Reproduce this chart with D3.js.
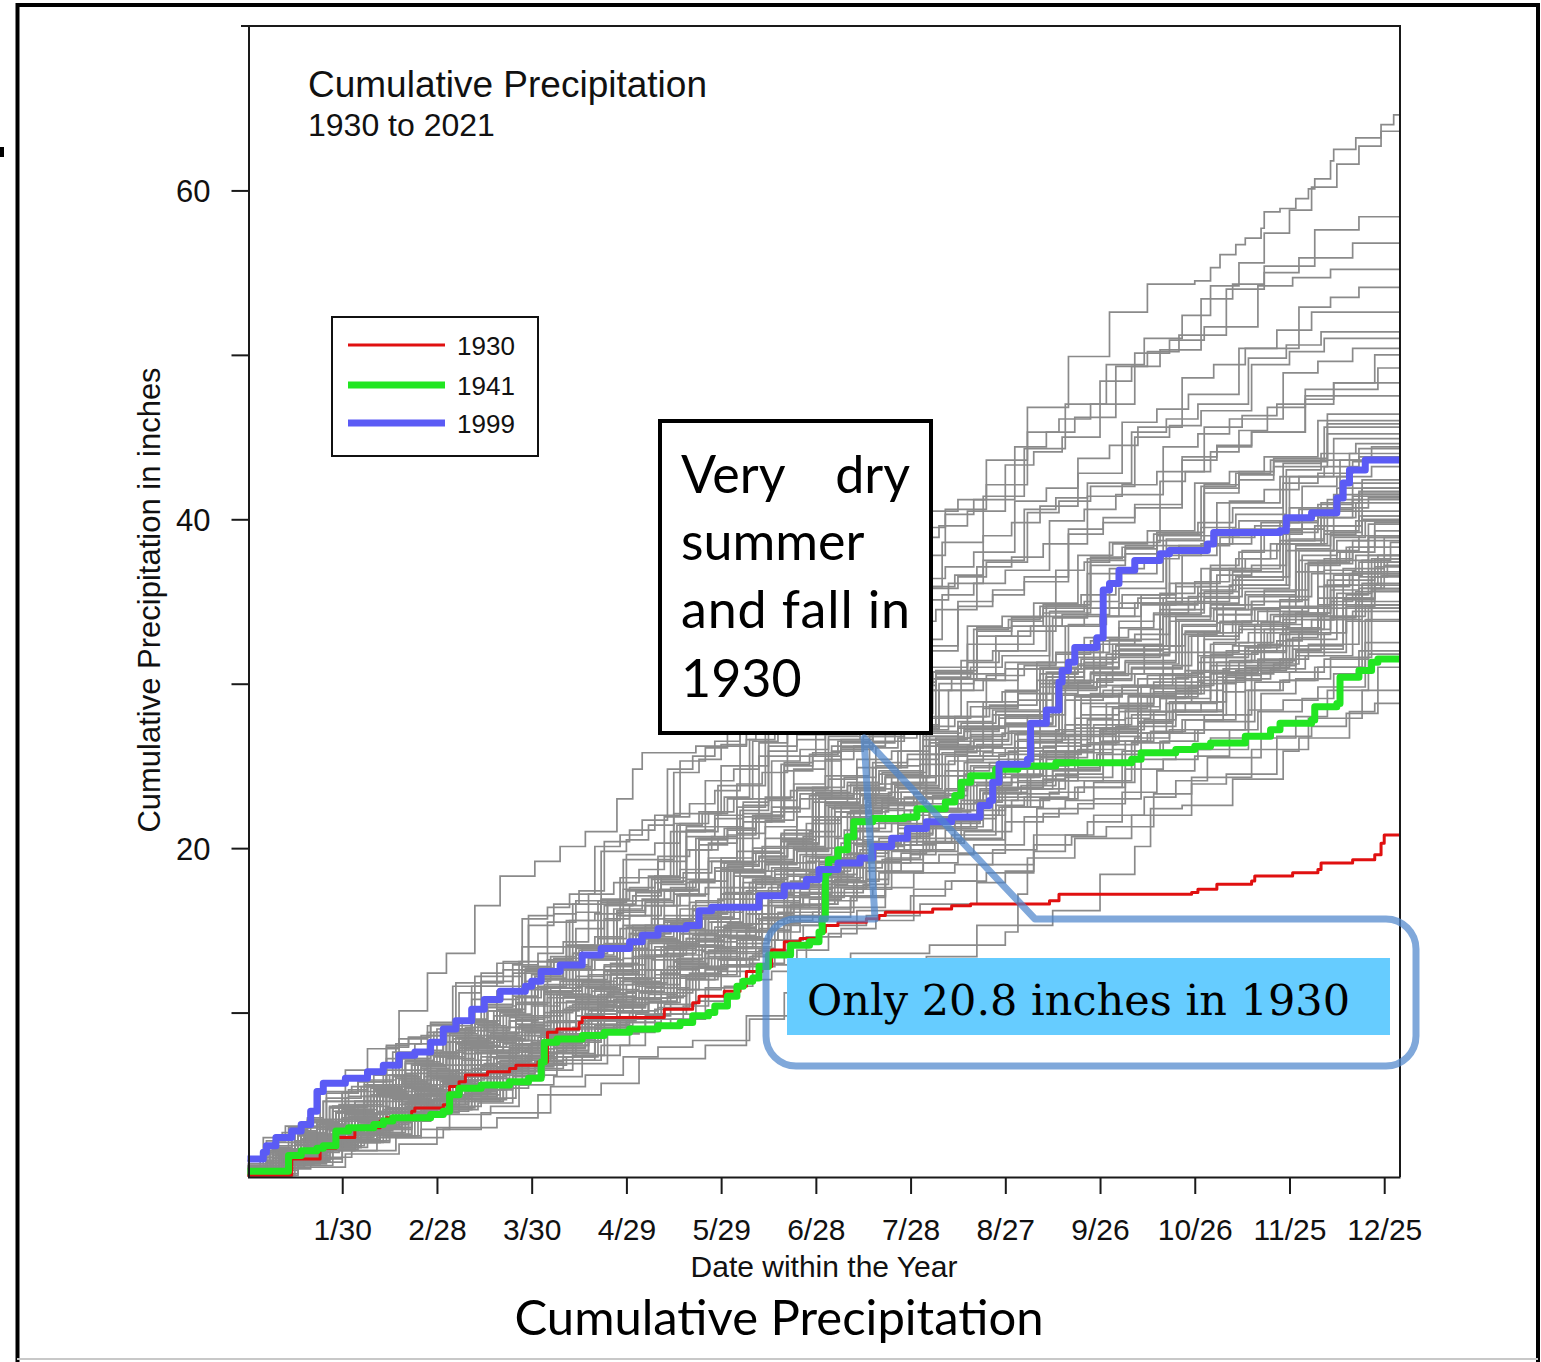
<!DOCTYPE html>
<html>
<head>
<meta charset="utf-8">
<script src="https://cdn.jsdelivr.net/npm/d3@7"></script>
<style>
  html, body { margin: 0; padding: 0; background: #fff; }
  svg { display: block; }
</style>
</head>
<body>
<svg id="chart" width="1541" height="1362"></svg>
<script>
// ---- axis ticks ----
const xTickDays = [30, 60, 90, 120, 150, 180, 210, 240, 270, 300, 330, 360];
const xTickLabels = ["1/30", "2/28", "3/30", "4/29", "5/29", "6/28", "7/28", "8/27", "9/26", "10/26", "11/25", "12/25"];
const yTickValues = [10, 20, 30, 40, 50, 60];
const yTickLabels = ["", "20", "", "40", "", "60"];

// ---- highlighted years: [day, cumulative inches, day, cumulative inches, ...] ----
const year1930 = [0,0.1, 14,1.1, 23,1.75, 28,2.4, 34,3.0, 42,3.4, 44,3.6, 52,4.0, 53,4.2, 62,4.4, 64,5.5, 67,5.8, 69,6.2, 76,6.4, 83,6.6, 85,6.8, 92,7.0, 95,8.8, 98,9.0, 105,9.4, 106,9.7, 132,10.2, 141,10.6, 143,11.0, 151,11.3, 156,11.6, 158,12.5, 163,12.8, 166,13.8, 170,14.3, 175,14.5, 181,14.9, 183,15.3, 187,15.5, 196,15.7, 200,15.9, 202,16.1, 217,16.3, 223,16.5, 229,16.6, 254,16.8, 257,17.2, 299,17.3, 301,17.5, 307,17.8, 318,18.0, 319,18.3, 331,18.5, 339,18.7, 340,19.1, 350,19.3, 357,19.6, 359,20.3, 360,20.8, 365,20.8];
const year1941 = [0,0.35, 13,1.3, 17,1.6, 22,1.75, 24,1.9, 28,2.8, 32,3.0, 40,3.2, 43,3.4, 46,3.6, 58,3.8, 62,4.0, 64,5.0, 67,5.4, 74,5.6, 83,5.8, 89,6.0, 93,7.0, 94,8.2, 98,8.4, 106,8.6, 113,8.8, 121,9.0, 130,9.2, 137,9.4, 141,9.8, 146,10.0, 148,10.4, 152,11.0, 155,11.6, 157,11.9, 160,12.1, 162,12.8, 165,13.5, 172,14.1, 178,14.3, 181,14.9, 182,15.7, 183,18.5, 184,19.3, 187,19.9, 190,20.7, 192,21.6, 198,21.8, 208,21.9, 212,22.4, 221,22.8, 224,23.2, 226,24.0, 229,24.4, 237,24.8, 244,25.0, 256,25.2, 280,25.4, 283,25.8, 294,26.0, 300,26.2, 305,26.4, 316,26.8, 324,27.2, 327,27.6, 337,27.8, 338,28.6, 345,28.8, 346,30.4, 352,30.8, 356,31.3, 358,31.5, 365,31.5];
const year1999 = [0,1.1, 5,1.5, 6,1.9, 9,2.4, 14,2.8, 17,3.2, 20,4.0, 22,5.2, 24,5.7, 31,6.0, 38,6.4, 43,6.8, 48,7.4, 53,7.6, 58,8.2, 62,9.0, 66,9.5, 71,10.2, 75,10.8, 80,11.3, 88,11.6, 90,11.9, 93,12.5, 99,12.9, 106,13.5, 112,13.9, 121,14.3, 125,14.7, 130,15.1, 139,15.3, 143,16.2, 147,16.4, 162,17.1, 170,17.7, 177,18.1, 181,18.7, 187,19.1, 194,19.4, 198,20.1, 204,20.6, 209,21.2, 215,21.6, 223,21.9, 232,22.6, 235,22.9, 236,24.0, 238,25.1, 247,25.4, 248,27.6, 253,28.4, 257,30.1, 258,30.8, 260,31.3, 262,32.2, 269,32.8, 271,35.7, 273,36.1, 276,36.9, 281,37.5, 289,37.9, 292,38.1, 304,38.5, 306,39.2, 327,39.3, 329,40.1, 337,40.4, 345,41.3, 347,42.2, 349,43.0, 354,43.6, 365,43.6];

const legendYears = ["1930", "1941", "1999"];

// ---- all other years, by decade: [year, [day, inches, ...]] ----
const gray1930s = [
  [1931, [0,0.2, 8,0.7, 19,1.4, 25,2.2, 38,2.8, 45,3.5, 52,4.4, 66,4.9, 74,6.0, 81,6.9, 95,7.3, 104,8.3, 112,9.1, 126,9.8, 134,11.2, 141,12.2, 156,12.8, 167,14.4, 176,15.3, 196,15.9, 213,16.6, 231,17.9, 240,18.6, 249,20.8, 266,21.6, 277,23.4, 288,24.7, 300,25.6, 311,27.2, 320,28.3, 334,29.1, 344,30.6, 352,32.0, 365,33.6]],
  [1932, [0,0.5, 6,1.0, 15,2.2, 27,2.6, 33,3.0, 40,4.6, 49,5.0, 61,5.5, 68,7.5, 79,7.9, 86,8.3, 97,10.6, 108,11.0, 116,11.4, 124,13.8, 136,14.3, 145,15.0, 153,17.6, 163,18.2, 171,19.1, 180,21.9, 191,22.3, 201,23.0, 215,25.7, 228,26.2, 239,27.0, 251,29.4, 263,30.1, 274,31.6, 289,34.5, 300,35.0, 311,36.0, 329,38.7, 341,39.3, 352,40.2, 365,41.5]],
  [1933, [0,0.3, 7,0.5, 12,0.8, 21,2.3, 29,2.6, 36,3.2, 43,3.9, 49,5.0, 58,5.3, 64,6.1, 72,6.8, 79,8.4, 88,8.8, 95,9.5, 106,11.9, 117,12.3, 126,13.4, 138,15.7, 149,16.1, 157,17.2, 169,20.5, 178,21.0, 186,22.6, 199,26.1, 206,26.7, 212,28.0, 226,31.4, 236,32.0, 244,33.2, 256,36.9, 265,37.4, 273,38.6, 289,42.3, 297,42.9, 305,44.1, 314,45.4, 323,46.8, 335,47.3, 344,48.3, 357,50.0, 365,50.4]],
  [1934, [0,0.7, 8,2.1, 17,3.0, 24,3.5, 31,4.6, 42,5.3, 50,6.3, 57,7.4, 66,7.7, 73,8.2, 85,10.5, 95,10.9, 104,11.6, 117,13.9, 127,14.2, 137,14.8, 149,16.9, 161,17.3, 172,18.0, 188,20.3, 200,20.6, 213,21.2, 231,22.9, 244,23.3, 257,24.1, 271,26.5, 283,27.0, 296,27.8, 309,30.2, 321,30.7, 332,31.7, 341,33.1, 348,34.6, 365,36.4]],
  [1935, [0,0.1, 5,0.6, 11,1.2, 24,1.9, 32,3.6, 41,3.9, 50,4.5, 58,6.8, 68,7.1, 77,7.6, 90,9.8, 100,10.2, 108,10.9, 119,13.3, 129,13.8, 139,14.5, 150,17.2, 157,17.6, 164,18.6, 177,21.5, 186,21.9, 196,22.8, 206,25.9, 216,26.4, 225,27.3, 240,29.6, 251,30.0, 262,30.9, 276,33.8, 287,34.3, 298,35.3, 315,38.1, 327,38.7, 338,39.6, 353,42.4, 365,43.2]],
  [1936, [0,0.4, 10,1.6, 18,1.9, 26,2.2, 35,3.9, 44,4.2, 53,4.6, 66,6.5, 75,6.9, 83,7.3, 94,9.4, 104,9.8, 113,10.4, 126,12.6, 136,13.0, 146,13.7, 158,16.0, 171,16.5, 184,17.1, 198,17.6, 211,18.5, 224,19.0, 236,19.9, 250,22.4, 259,22.9, 268,24.0, 281,26.7, 292,27.2, 303,28.1, 318,30.9, 327,31.5, 336,32.4, 352,35.8, 359,36.6, 365,37.6]],
  [1937, [0,0.8, 5,2.4, 11,2.7, 17,3.3, 25,5.1, 33,5.5, 40,6.2, 48,8.4, 57,8.8, 65,9.5, 74,11.9, 84,12.4, 92,13.1, 101,15.6, 110,16.0, 119,16.8, 130,19.5, 140,19.9, 149,20.6, 162,23.0, 172,23.5, 183,24.4, 197,26.8, 208,27.3, 219,28.0, 234,30.5, 246,31.1, 256,31.9, 271,34.6, 282,35.2, 292,36.1, 308,38.9, 319,39.6, 330,40.7, 346,43.6, 356,44.4, 365,45.4]],
  [1938, [0,0.2, 13,0.9, 22,2.4, 31,2.7, 39,3.1, 47,4.8, 57,5.1, 66,5.6, 76,7.7, 86,8.1, 95,8.6, 104,10.8, 114,11.2, 123,11.8, 133,14.2, 143,14.7, 152,15.4, 161,18.1, 171,18.6, 181,19.4, 192,22.2, 203,22.7, 214,23.5, 228,25.6, 240,26.1, 251,26.9, 264,29.2, 277,29.8, 289,30.6, 303,33.1, 315,33.8, 327,34.7, 343,37.5, 355,38.3, 365,39.1]],
  [1939, [0,0.3, 7,1.4, 14,1.7, 20,2.0, 30,3.5, 38,3.8, 45,4.2, 55,5.9, 65,6.3, 74,6.7, 84,8.6, 93,9.0, 102,9.5, 112,11.7, 122,12.1, 131,12.6, 143,14.9, 153,15.4, 162,16.0, 173,18.7, 183,19.3, 193,20.1, 206,22.7, 217,23.2, 228,24.0, 244,26.1, 256,26.6, 267,27.3, 282,29.8, 294,30.4, 305,31.1, 321,33.7, 332,34.3, 343,35.2, 357,37.6, 365,38.4]]
];
const gray1940s = [
  [1940, [0,0.4, 10,1.2, 18,2.5, 27,2.8, 35,3.3, 44,5.0, 53,5.4, 62,5.9, 71,8.0, 80,8.4, 88,8.9, 99,11.1, 109,11.5, 118,12.1, 127,14.4, 137,15.0, 146,15.7, 156,18.6, 165,19.1, 174,19.9, 184,22.5, 195,23.0, 205,23.7, 219,26.0, 230,26.5, 241,27.1, 257,29.7, 269,30.3, 280,31.0, 296,33.6, 307,34.2, 318,35.0, 333,37.5, 343,38.1, 352,39.0, 365,40.5]],
  [1942, [0,0.2, 12,1.5, 19,1.8, 25,2.1, 34,3.8, 43,4.1, 51,4.6, 60,6.5, 69,6.8, 78,7.3, 87,9.7, 96,10.1, 105,10.6, 115,13.0, 124,13.5, 133,14.1, 142,16.8, 151,17.3, 160,18.0, 170,21.1, 179,21.7, 188,22.6, 198,25.2, 209,25.7, 219,26.5, 233,28.9, 244,29.4, 254,30.2, 268,32.8, 279,33.3, 290,34.1, 305,37.0, 316,37.6, 326,38.5, 342,41.2, 353,41.9, 365,42.8]],
  [1943, [0,1.0, 6,2.2, 12,3.1, 23,5.2, 31,6.5, 38,7.8, 48,10.1, 57,12.4, 63,13.6, 72,16.5, 80,18.3, 91,19.2, 99,20.1, 107,21.0, 117,23.0, 122,24.8, 125,25.8, 142,26.2, 158,26.6, 161,27.0, 176,28.2, 190,29.4, 209,30.3, 228,32.4, 249,34.1, 266,36.7, 288,38.4, 307,41.0, 327,42.6, 344,44.9, 365,46.1]],
  [1944, [0,0.1, 14,0.8, 23,2.0, 32,2.3, 41,2.7, 50,4.3, 60,4.6, 69,5.1, 79,6.9, 88,7.3, 97,7.8, 107,9.9, 117,10.3, 126,10.9, 135,13.1, 145,13.6, 155,14.2, 165,16.8, 175,17.3, 185,18.0, 195,20.4, 206,20.9, 217,21.6, 232,23.6, 244,24.1, 255,24.8, 270,27.1, 282,27.7, 293,28.4, 309,30.9, 320,31.5, 331,32.3, 347,35.1, 357,36.0, 365,37.3]],
  [1945, [0,0.4, 8,1.7, 14,2.1, 20,2.6, 29,4.4, 37,4.9, 44,5.5, 53,7.7, 62,8.2, 70,8.9, 79,11.3, 88,11.9, 96,12.6, 104,15.1, 113,15.7, 121,16.5, 130,19.2, 139,19.9, 147,20.7, 155,23.9, 163,24.6, 171,25.6, 180,29.1, 188,29.9, 196,31.0, 205,34.4, 214,35.1, 222,36.1, 233,39.0, 242,39.8, 251,40.8, 263,43.7, 273,44.5, 282,45.6, 296,48.6, 306,49.4, 316,50.4, 333,52.9, 343,53.5, 352,54.1, 365,55.0]],
  [1946, [0,0.3, 11,1.0, 20,2.4, 29,2.7, 37,3.1, 46,4.7, 55,5.0, 64,5.5, 74,7.3, 83,7.7, 92,8.2, 101,10.3, 111,10.7, 120,11.3, 129,13.5, 139,14.0, 149,14.6, 158,17.2, 168,17.7, 178,18.5, 189,21.1, 200,21.6, 210,22.3, 225,24.4, 236,24.9, 247,25.6, 262,27.9, 274,28.5, 285,29.2, 301,31.7, 312,32.3, 323,33.1, 339,35.9, 349,36.7, 358,37.8, 365,38.8]],
  [1947, [0,0.6, 7,1.6, 16,2.5, 26,4.2, 34,4.6, 41,5.0, 50,7.0, 59,7.4, 67,7.9, 76,10.1, 85,10.6, 94,11.2, 103,13.6, 112,14.1, 121,14.8, 130,17.4, 139,17.9, 148,18.6, 157,21.6, 166,22.2, 175,23.0, 185,25.9, 195,26.4, 205,27.2, 219,29.6, 230,30.2, 240,30.9, 254,33.5, 265,34.1, 276,34.9, 291,37.8, 302,38.5, 312,39.4, 328,42.2, 339,42.8, 350,43.5, 365,44.2]],
  [1948, [0,0.1, 15,0.7, 27,1.8, 36,2.1, 45,2.5, 55,4.0, 65,4.3, 74,4.8, 85,6.5, 94,6.9, 103,7.4, 113,9.5, 123,9.9, 132,10.5, 142,12.7, 152,13.2, 162,13.8, 172,16.3, 183,16.8, 193,17.5, 204,19.8, 216,20.3, 227,21.0, 242,22.9, 254,23.4, 265,24.1, 280,26.4, 292,27.0, 303,27.7, 319,30.1, 330,30.7, 341,31.5, 355,34.6, 365,35.8]],
  [1949, [0,0.5, 9,1.3, 17,2.7, 25,3.0, 33,3.5, 42,5.2, 51,5.6, 60,6.1, 69,8.2, 78,8.6, 87,9.2, 96,11.5, 106,11.9, 115,12.5, 124,14.9, 134,15.4, 143,16.1, 152,19.0, 162,19.5, 171,20.3, 181,23.0, 192,23.5, 202,24.3, 216,26.6, 227,27.1, 238,27.9, 253,30.4, 265,31.0, 276,31.7, 292,34.3, 303,34.9, 314,35.8, 330,38.5, 341,39.1, 351,39.9, 365,40.9]]
];
const gray1950s = [
  [1950, [0,0.2, 12,1.4, 18,1.7, 24,2.0, 33,3.7, 41,4.0, 49,4.5, 58,6.4, 67,6.8, 76,7.3, 85,9.6, 94,10.0, 103,10.5, 113,12.9, 122,13.4, 131,14.0, 140,16.7, 150,17.2, 159,17.9, 169,20.9, 179,21.5, 188,22.2, 198,24.9, 209,25.4, 219,26.1, 233,28.5, 244,29.0, 255,29.8, 270,32.4, 281,33.0, 292,33.8, 307,36.6, 318,37.2, 329,38.1, 344,40.7, 355,41.3, 365,41.9]],
  [1951, [0,0.4, 8,1.1, 16,2.6, 24,3.0, 31,3.4, 40,5.3, 49,5.7, 57,6.2, 66,8.5, 75,9.0, 83,9.5, 92,12.1, 101,12.6, 110,13.2, 119,15.9, 128,16.5, 137,17.2, 146,20.3, 155,20.9, 164,21.7, 173,24.8, 183,25.4, 192,26.2, 202,29.0, 213,29.6, 223,30.3, 237,32.9, 248,33.5, 258,34.2, 273,37.0, 284,37.6, 295,38.4, 311,41.1, 322,41.8, 333,42.6, 349,44.0, 365,44.6]],
  [1952, [0,0.7, 6,1.9, 14,3.0, 20,3.4, 25,4.8, 32,5.3, 38,5.9, 47,8.1, 55,8.6, 62,9.2, 71,11.6, 79,12.2, 87,12.8, 95,15.5, 104,16.1, 112,16.8, 120,19.6, 129,20.3, 137,21.0, 145,24.1, 154,24.8, 162,25.6, 171,28.8, 180,29.5, 189,30.3, 198,33.2, 208,33.8, 218,34.5, 231,37.1, 242,37.7, 252,38.5, 266,41.4, 277,42.1, 288,42.9, 303,45.6, 315,46.3, 326,47.0, 344,48.3, 365,48.9]],
  [1953, [0,0.2, 13,1.0, 26,2.3, 34,2.6, 42,3.0, 51,4.6, 60,4.9, 69,5.4, 79,7.4, 88,7.8, 97,8.3, 107,10.5, 117,10.9, 126,11.5, 135,13.8, 145,14.3, 155,14.9, 165,17.6, 175,18.2, 185,18.9, 195,21.5, 206,22.0, 216,22.7, 230,24.9, 241,25.4, 252,26.2, 267,28.6, 279,29.2, 290,29.9, 306,32.5, 317,33.1, 328,33.9, 344,36.6, 353,37.5, 362,38.6, 365,39.3]],
  [1954, [0,0.3, 12,0.8, 25,1.9, 35,2.2, 44,2.5, 54,3.8, 64,4.1, 73,4.5, 84,6.1, 94,6.5, 103,6.9, 114,8.7, 124,9.1, 134,9.6, 145,11.5, 156,12.0, 166,12.5, 177,14.6, 188,15.1, 199,15.6, 211,17.5, 223,18.0, 234,18.5, 249,20.2, 261,20.7, 272,21.3, 287,23.3, 299,23.9, 310,24.5, 326,26.8, 337,27.4, 348,28.2, 358,31.0, 365,32.2]],
  [1955, [0,0.4, 9,1.4, 19,2.3, 28,3.9, 37,4.3, 45,4.8, 54,6.8, 63,7.2, 72,7.6, 81,9.9, 90,10.4, 99,10.9, 108,13.3, 118,13.8, 127,14.4, 136,17.1, 145,17.6, 154,18.3, 164,21.3, 174,21.9, 183,22.6, 193,25.4, 204,25.9, 214,26.6, 228,28.9, 239,29.5, 250,30.2, 265,32.8, 276,33.4, 287,34.2, 302,37.0, 313,37.6, 324,38.5, 340,41.0, 352,41.6, 365,42.2]],
  [1956, [0,0.2, 14,1.1, 27,1.8, 38,3.4, 47,3.7, 55,4.1, 65,5.9, 74,6.3, 83,6.7, 93,8.7, 103,9.1, 112,9.6, 122,11.8, 132,12.3, 141,12.8, 151,15.2, 161,15.7, 171,16.4, 181,19.0, 192,19.5, 202,20.2, 214,22.4, 226,22.9, 237,23.6, 252,25.8, 264,26.3, 275,27.0, 291,29.4, 302,30.0, 313,30.8, 329,33.4, 340,34.1, 351,35.0, 365,37.0]],
  [1957, [0,0.3, 10,1.1, 21,2.5, 29,2.8, 37,3.2, 46,4.9, 55,5.3, 63,5.8, 73,7.9, 82,8.3, 91,8.8, 100,11.0, 110,11.4, 119,12.0, 128,14.3, 138,14.8, 147,15.5, 157,18.2, 167,18.7, 176,19.5, 186,22.2, 197,22.7, 207,23.4, 221,25.6, 232,26.1, 243,26.9, 258,29.3, 270,29.9, 281,30.6, 297,33.2, 308,33.8, 319,34.6, 335,37.3, 345,38.0, 355,38.9, 365,40.0]],
  [1958, [0,0.5, 8,1.5, 17,2.3, 27,4.0, 35,4.4, 43,4.9, 52,6.9, 61,7.3, 69,7.8, 78,10.1, 87,10.6, 96,11.1, 105,13.6, 114,14.1, 123,14.7, 132,17.4, 141,18.0, 150,18.7, 160,21.8, 169,22.4, 178,23.2, 188,26.0, 198,26.5, 208,27.2, 222,29.6, 233,30.2, 244,30.9, 259,33.5, 270,34.1, 281,34.9, 296,37.8, 307,38.5, 318,39.3, 334,42.0, 345,42.6, 356,43.2, 365,43.6]],
  [1959, [0,0.1, 10,0.4, 16,1.5, 29,1.8, 36,3.2, 50,3.6, 56,4.4, 70,4.8, 79,6.6, 91,7.0, 100,8.2, 112,8.7, 118,10.6, 133,11.0, 139,12.3, 152,12.9, 158,15.0, 172,15.5, 182,17.6, 196,18.1, 203,20.2, 218,20.6, 224,22.0, 238,22.5, 247,24.8, 262,25.3, 270,27.2, 284,27.8, 294,29.6, 309,30.1, 316,32.3, 331,32.8, 339,35.2, 353,35.8, 360,37.2, 365,38.0]]
];
const gray1960s = [
  [1960, [0,0.5, 8,1.6, 15,2.8, 22,3.3, 29,4.3, 37,5.8, 46,6.2, 54,6.9, 62,9.0, 71,9.5, 79,10.1, 87,12.6, 96,13.1, 105,13.8, 113,16.5, 122,17.1, 131,17.8, 139,20.7, 148,21.3, 157,22.1, 166,25.3, 175,26.0, 184,26.8, 194,29.7, 204,30.3, 214,31.0, 228,33.5, 239,34.1, 249,34.9, 263,37.8, 274,38.5, 285,39.3, 300,42.2, 311,42.9, 322,43.8, 339,46.0, 365,47.0]],
  [1961, [0,0.2, 9,1.4, 22,1.7, 29,2.7, 43,3.1, 48,4.4, 61,4.8, 69,6.1, 82,6.5, 89,8.0, 102,8.4, 109,10.3, 122,10.8, 129,12.3, 143,12.8, 150,14.6, 162,15.1, 170,17.3, 184,17.8, 190,19.7, 203,20.2, 212,22.2, 226,22.7, 234,24.3, 249,24.8, 256,26.8, 271,27.3, 279,29.3, 294,29.8, 302,31.6, 317,32.2, 324,34.2, 339,34.8, 347,37.0, 360,37.8, 365,39.5]],
  [1962, [0,0.1, 13,0.9, 25,1.8, 33,2.1, 41,2.6, 51,4.1, 60,4.4, 69,4.9, 79,6.7, 89,7.1, 98,7.6, 108,9.6, 118,10.0, 127,10.6, 137,12.8, 147,13.3, 157,13.9, 167,16.4, 178,16.9, 188,17.6, 199,19.9, 210,20.4, 221,21.1, 236,23.1, 248,23.6, 259,24.3, 274,26.5, 286,27.1, 297,27.8, 313,30.3, 324,30.9, 335,31.7, 350,34.4, 365,36.2]],
  [1963, [0,0.1, 16,0.6, 31,1.4, 48,2.0, 60,3.0, 79,3.6, 92,5.0, 112,5.7, 124,7.2, 145,8.0, 158,9.8, 180,10.7, 193,12.5, 215,13.4, 231,15.3, 255,16.2, 270,18.4, 281,20.1, 286,22.4, 296,22.6, 312,24.2, 328,25.9, 333,26.7, 349,28.3, 357,28.8, 365,28.8]],
  [1964, [0,0.2, 16,0.9, 30,1.6, 47,2.4, 62,2.9, 74,3.9, 96,5.5, 107,6.2, 119,7.3, 130,7.9, 141,8.3, 159,9.6, 170,11.2, 191,13.6, 216,14.1, 240,14.9, 244,17.2, 247,19.4, 262,20.6, 280,22.0, 299,24.3, 318,26.0, 336,27.9, 353,29.6, 365,30.4]],
  [1965, [0,0.2, 10,1.0, 22,1.6, 30,2.1, 38,2.7, 49,3.5, 58,3.9, 67,4.6, 80,5.4, 89,6.2, 98,7.1, 112,8.0, 121,8.8, 129,9.9, 142,10.7, 151,11.6, 160,12.9, 174,13.8, 184,14.8, 193,16.2, 210,17.1, 221,18.0, 231,19.0, 249,19.8, 259,20.8, 268,22.0, 284,23.1, 294,24.1, 304,25.5, 321,26.7, 332,28.0, 342,29.6, 355,31.8, 365,33.0]],
  [1966, [0,0.3, 8,0.7, 14,1.9, 27,2.2, 34,3.0, 47,3.4, 53,4.9, 66,5.3, 73,6.5, 87,6.9, 93,8.7, 106,9.1, 112,10.4, 126,10.9, 133,12.8, 146,13.3, 153,14.9, 166,15.4, 173,17.6, 186,18.1, 194,19.9, 208,20.4, 216,22.3, 230,22.8, 238,24.5, 252,25.0, 260,26.9, 275,27.4, 283,29.2, 298,29.8, 305,31.8, 320,32.4, 328,34.3, 343,35.0, 350,36.8, 365,38.3]],
  [1967, [0,0.6, 7,1.6, 16,2.6, 27,4.2, 34,4.6, 41,5.1, 50,7.1, 59,7.5, 67,8.0, 76,10.4, 85,10.9, 93,11.5, 102,14.0, 111,14.5, 120,15.2, 129,17.9, 138,18.5, 147,19.2, 156,22.3, 165,22.9, 174,23.7, 184,26.6, 194,27.2, 204,27.9, 218,30.4, 229,31.0, 239,31.7, 254,34.4, 265,35.0, 276,35.8, 291,38.8, 302,39.5, 313,40.3, 329,43.0, 340,43.6, 352,44.3, 365,44.9]],
  [1968, [0,0.2, 12,1.1, 25,2.3, 33,2.7, 40,3.1, 49,4.8, 58,5.2, 67,5.7, 77,7.7, 86,8.1, 95,8.6, 104,10.8, 114,11.2, 123,11.8, 132,14.2, 142,14.7, 151,15.3, 160,18.1, 170,18.6, 180,19.4, 190,22.1, 201,22.6, 211,23.3, 225,25.6, 236,26.1, 247,26.8, 262,29.2, 274,29.8, 285,30.5, 301,33.1, 312,33.8, 323,34.6, 339,37.4, 348,38.3, 357,39.3, 365,40.2]],
  [1969, [0,0.4, 13,1.3, 26,2.0, 34,2.6, 42,3.3, 52,4.5, 61,4.8, 70,5.3, 80,7.1, 89,7.5, 98,8.0, 108,10.1, 118,10.5, 127,11.1, 136,13.3, 146,13.8, 155,14.4, 165,17.0, 175,17.5, 185,18.2, 195,20.7, 206,21.2, 216,21.9, 231,23.9, 242,24.4, 253,25.1, 268,27.5, 280,28.1, 291,28.8, 307,31.3, 318,31.9, 329,32.7, 345,35.5, 356,36.5, 365,37.7]]
];
const gray1970s = [
  [1970, [0,0.3, 10,1.3, 20,2.1, 28,2.7, 35,3.5, 44,4.9, 53,5.3, 62,5.8, 71,7.9, 80,8.3, 89,8.8, 98,11.1, 108,11.5, 117,12.1, 126,14.5, 136,15.0, 145,15.7, 154,18.5, 164,19.0, 174,19.8, 184,22.6, 195,23.1, 205,23.8, 219,26.1, 230,26.6, 241,27.4, 256,29.9, 268,30.5, 279,31.2, 295,33.8, 306,34.5, 317,35.3, 333,38.1, 344,38.9, 354,39.9, 365,41.2]],
  [1971, [0,0.2, 12,1.0, 24,2.2, 32,2.5, 40,2.9, 50,4.5, 59,4.8, 68,5.3, 78,7.2, 87,7.6, 96,8.1, 106,10.2, 116,10.6, 125,11.2, 134,13.5, 144,14.0, 153,14.6, 163,17.2, 173,17.7, 183,18.4, 193,21.0, 204,21.5, 214,22.2, 229,24.3, 240,24.8, 251,25.5, 266,27.8, 278,28.4, 289,29.1, 305,31.6, 316,32.2, 327,33.0, 343,35.7, 352,36.5, 361,37.4, 365,37.9]],
  [1972, [0,0.6, 6,1.8, 13,3.0, 19,3.6, 24,4.6, 30,5.1, 35,5.8, 44,8.0, 51,8.5, 58,9.3, 66,11.8, 74,12.4, 81,13.1, 89,15.9, 97,16.6, 105,17.4, 113,20.4, 121,21.1, 129,22.0, 137,25.3, 145,26.1, 152,27.0, 160,30.7, 168,31.6, 176,32.6, 185,36.0, 194,36.8, 203,37.6, 215,40.5, 225,41.2, 234,42.1, 247,45.3, 257,46.1, 267,47.0, 281,50.1, 292,50.9, 303,51.7, 320,54.2, 331,54.7, 343,55.2, 365,55.8]],
  [1973, [0,0.4, 9,1.4, 18,2.4, 25,3.0, 32,3.8, 41,5.3, 50,5.7, 58,6.2, 67,8.4, 76,8.8, 85,9.3, 94,11.7, 104,12.2, 113,12.8, 122,15.3, 132,15.9, 141,16.5, 150,19.4, 160,20.0, 169,20.8, 179,23.7, 189,24.3, 199,25.0, 213,27.4, 224,28.0, 235,28.7, 250,31.3, 262,31.9, 273,32.7, 289,35.5, 300,36.2, 311,37.0, 327,39.9, 339,40.6, 350,41.4, 365,42.4]],
  [1974, [0,0.1, 13,0.9, 26,1.7, 35,2.1, 43,2.5, 53,3.9, 63,4.2, 72,4.7, 82,6.4, 92,6.8, 101,7.3, 111,9.3, 121,9.7, 130,10.3, 140,12.4, 150,12.9, 160,13.5, 170,15.9, 181,16.4, 191,17.1, 202,19.4, 213,19.9, 224,20.6, 239,22.5, 251,23.0, 262,23.7, 277,25.9, 289,26.5, 300,27.2, 316,29.6, 327,30.2, 338,31.0, 353,33.8, 365,35.3]],
  [1975, [0,0.3, 10,1.5, 19,2.6, 25,3.2, 31,4.1, 40,5.5, 48,6.0, 55,6.7, 63,8.9, 71,9.4, 79,10.1, 87,12.6, 95,13.2, 103,14.0, 111,16.8, 119,17.5, 127,18.3, 135,21.5, 143,22.2, 151,23.1, 159,26.6, 167,27.4, 175,28.3, 184,31.6, 193,32.3, 202,33.2, 214,35.9, 224,36.6, 233,37.5, 246,40.6, 256,41.3, 266,42.2, 280,45.3, 291,46.1, 301,47.0, 317,49.8, 329,50.6, 340,51.4, 365,52.8]],
  [1976, [0,0.2, 11,1.1, 22,2.4, 30,2.7, 38,3.1, 47,4.8, 56,5.2, 65,5.6, 74,7.6, 83,8.0, 92,8.5, 101,10.7, 111,11.1, 120,11.7, 129,14.0, 139,14.5, 148,15.2, 157,17.9, 167,18.4, 177,19.2, 187,21.9, 198,22.4, 208,23.1, 222,25.3, 233,25.8, 244,26.6, 259,29.0, 271,29.6, 282,30.3, 298,32.9, 309,33.6, 320,34.4, 336,37.2, 346,38.0, 355,38.9, 365,39.9]],
  [1977, [0,0.7, 8,1.7, 16,2.6, 22,3.2, 28,4.0, 39,5.0, 48,5.5, 56,6.1, 64,8.2, 73,8.6, 82,9.1, 91,11.5, 100,12.0, 109,12.6, 118,15.1, 128,15.7, 137,16.3, 146,19.2, 155,19.8, 164,20.6, 174,23.6, 184,24.2, 193,24.9, 207,27.3, 218,27.9, 229,28.6, 244,31.2, 256,31.8, 267,32.6, 283,35.4, 294,36.1, 305,36.9, 321,39.8, 333,40.6, 344,41.5, 365,43.0]],
  [1978, [0,0.4, 7,0.7, 13,1.6, 26,1.9, 32,3.1, 46,3.5, 51,4.6, 65,5.0, 71,6.6, 85,7.0, 90,8.2, 104,8.6, 111,10.4, 125,10.8, 131,12.1, 145,12.6, 152,14.5, 165,15.0, 172,16.6, 186,17.1, 193,19.2, 207,19.7, 215,21.3, 229,21.8, 237,23.7, 252,24.2, 259,25.8, 274,26.3, 282,28.3, 297,28.9, 305,30.6, 320,31.2, 328,33.3, 343,34.0, 351,35.6, 365,36.8]],
  [1979, [0,0.4, 9,1.6, 17,2.7, 23,3.3, 29,4.3, 38,5.6, 47,6.1, 55,6.8, 63,9.0, 72,9.5, 80,10.2, 88,12.7, 97,13.3, 106,14.0, 114,16.8, 123,17.4, 131,18.2, 139,21.3, 148,22.0, 157,22.8, 165,26.2, 174,26.9, 183,27.8, 193,30.9, 203,31.5, 212,32.3, 225,35.0, 236,35.7, 246,36.5, 260,39.4, 271,40.1, 281,40.9, 296,43.8, 307,44.5, 318,45.3, 335,47.5, 365,48.2]]
];
const gray1980s = [
  [1980, [0,0.2, 8,1.3, 21,1.6, 27,2.4, 40,2.8, 46,4.0, 60,4.4, 67,5.3, 82,5.7, 87,7.6, 101,8.0, 108,9.6, 121,10.0, 127,11.5, 140,12.0, 148,13.9, 160,14.4, 168,16.1, 181,16.6, 187,18.8, 201,19.3, 210,21.2, 224,21.7, 233,23.4, 247,23.9, 253,25.9, 268,26.4, 276,28.3, 292,28.9, 299,30.7, 314,31.3, 322,33.3, 337,33.9, 344,36.0, 358,36.7, 365,38.5]],
  [1981, [0,0.3, 10,1.2, 20,2.0, 27,2.6, 34,3.4, 43,4.9, 52,5.3, 61,5.8, 70,7.9, 79,8.3, 88,8.8, 97,11.1, 107,11.5, 116,12.1, 125,14.6, 135,15.1, 144,15.8, 153,18.7, 163,19.2, 173,20.0, 183,22.8, 194,23.3, 204,24.0, 218,26.3, 229,26.9, 240,27.6, 255,30.1, 267,30.7, 278,31.4, 294,34.1, 305,34.8, 316,35.6, 332,38.4, 343,39.2, 353,40.2, 365,41.4]],
  [1982, [0,0.4, 13,1.3, 25,2.0, 33,2.6, 41,3.2, 51,4.4, 60,4.7, 69,5.2, 79,7.0, 88,7.4, 97,7.9, 107,9.9, 117,10.3, 126,10.9, 135,13.1, 145,13.6, 155,14.2, 165,16.7, 175,17.2, 185,17.9, 196,20.3, 207,20.8, 217,21.5, 232,23.5, 244,24.0, 255,24.7, 270,27.0, 282,27.6, 293,28.3, 309,30.7, 320,31.3, 331,32.1, 347,34.8, 365,36.6]],
  [1983, [0,0.6, 8,1.7, 16,2.8, 22,3.4, 27,4.3, 40,5.2, 49,7.2, 58,7.6, 66,8.1, 75,10.5, 84,11.0, 92,11.6, 101,14.1, 110,14.6, 119,15.3, 128,18.1, 137,18.7, 146,19.4, 155,22.5, 164,23.1, 173,23.9, 183,26.9, 193,27.5, 203,28.2, 217,30.7, 228,31.3, 238,32.0, 253,34.8, 264,35.4, 275,36.2, 290,39.1, 301,39.8, 312,40.7, 328,43.4, 340,44.0, 351,44.6, 365,45.1]],
  [1984, [0,0.3, 10,1.5, 19,2.6, 25,3.2, 31,4.1, 40,5.3, 49,5.8, 57,6.4, 65,8.6, 74,9.1, 83,9.7, 91,12.2, 100,12.7, 109,13.4, 117,16.2, 126,16.8, 135,17.5, 143,20.6, 152,21.2, 161,22.0, 170,25.2, 179,25.8, 188,26.6, 198,29.5, 208,30.1, 218,30.8, 231,33.4, 242,34.0, 252,34.8, 267,37.7, 278,38.4, 288,39.2, 303,42.1, 314,42.9, 325,43.7, 342,45.8, 365,46.5]],
  [1985, [0,0.2, 12,1.0, 24,2.3, 32,2.6, 40,3.0, 49,4.7, 58,5.0, 67,5.5, 77,7.5, 86,7.9, 95,8.4, 104,10.6, 114,11.0, 123,11.6, 132,13.9, 142,14.4, 151,15.1, 161,17.8, 171,18.3, 181,19.1, 191,21.8, 202,22.3, 212,23.0, 227,25.2, 238,25.7, 249,26.4, 264,28.8, 276,29.4, 287,30.1, 303,32.7, 314,33.3, 325,34.1, 341,36.9, 351,37.8, 360,38.9, 365,39.6]],
  [1986, [0,0.4, 9,1.4, 18,2.3, 25,2.9, 32,3.7, 41,5.2, 50,5.6, 59,6.1, 68,8.3, 77,8.7, 86,9.2, 95,11.5, 105,12.0, 114,12.6, 123,15.0, 133,15.5, 142,16.2, 151,19.1, 161,19.7, 170,20.5, 180,23.4, 191,23.9, 201,24.6, 215,27.0, 226,27.6, 237,28.3, 252,30.9, 264,31.5, 275,32.3, 291,35.0, 302,35.7, 313,36.5, 329,39.4, 340,40.1, 351,41.0, 365,42.0]],
  [1987, [0,0.2, 6,0.9, 19,1.2, 24,1.9, 37,2.2, 45,3.4, 57,3.8, 63,4.9, 76,5.3, 84,6.9, 97,7.3, 103,8.7, 116,9.2, 122,10.9, 136,11.4, 143,12.8, 156,13.3, 161,15.4, 175,15.9, 182,17.3, 195,17.8, 203,19.9, 217,20.4, 226,22.0, 240,22.5, 248,24.4, 263,24.9, 270,26.5, 285,27.0, 293,28.9, 309,29.5, 316,31.4, 332,32.0, 340,34.1, 354,34.8, 365,37.1]],
  [1988, [0,0.2, 12,0.9, 25,1.6, 34,2.1, 42,2.6, 52,3.8, 62,4.1, 71,4.6, 81,6.2, 91,6.6, 100,7.1, 110,9.0, 120,9.4, 129,9.9, 139,12.0, 149,12.5, 159,13.0, 170,15.3, 181,15.8, 191,16.4, 202,18.6, 214,19.1, 225,19.7, 240,21.6, 252,22.1, 263,22.7, 278,24.8, 290,25.4, 301,26.0, 317,28.4, 328,29.0, 339,29.8, 354,32.5, 365,34.0]],
  [1989, [0,0.3, 11,1.5, 20,2.5, 26,3.1, 32,4.1, 41,5.4, 49,5.9, 56,6.6, 64,8.8, 72,9.3, 80,10.0, 88,12.5, 96,13.1, 104,13.9, 112,16.7, 120,17.4, 128,18.2, 136,21.4, 144,22.1, 152,23.0, 160,26.5, 168,27.3, 176,28.2, 185,31.5, 194,32.2, 203,33.1, 215,35.8, 225,36.5, 234,37.4, 247,40.4, 257,41.1, 267,42.0, 281,45.0, 292,45.7, 302,46.6, 318,49.4, 330,50.2, 341,51.0, 365,52.2]]
];
const gray1990s = [
  [1990, [0,0.5, 9,1.5, 18,2.3, 25,2.9, 31,3.8, 41,5.0, 50,5.4, 58,6.0, 67,8.1, 76,8.5, 85,9.0, 94,11.3, 104,11.7, 113,12.3, 122,14.7, 132,15.2, 141,15.9, 150,18.7, 160,19.2, 169,20.0, 179,22.8, 190,23.3, 200,23.9, 214,26.2, 225,26.7, 236,27.4, 251,29.8, 260,33.6, 272,34.1, 283,34.8, 294,35.9, 305,37.2, 314,38.0, 322,39.1, 334,40.2, 345,41.9, 365,43.4]],
  [1991, [0,0.4, 4,1.0, 18,1.4, 25,2.6, 39,2.9, 44,4.2, 57,4.6, 64,5.6, 78,6.0, 83,7.8, 97,8.2, 104,9.5, 117,10.0, 125,11.7, 137,12.2, 145,14.0, 157,14.6, 163,16.5, 176,17.0, 185,19.4, 197,19.9, 206,21.4, 220,21.9, 228,23.8, 242,24.3, 251,25.9, 266,26.4, 274,28.6, 289,29.1, 297,30.8, 311,31.4, 319,33.6, 334,34.2, 342,36.3, 357,37.1, 365,38.9]],
  [1992, [0,0.2, 10,1.2, 21,2.0, 28,2.6, 35,3.4, 45,4.8, 54,5.2, 62,5.7, 72,7.7, 81,8.1, 90,8.6, 99,10.9, 109,11.3, 118,11.9, 127,14.3, 137,14.8, 146,15.5, 156,18.3, 166,18.8, 175,19.6, 185,22.4, 196,22.9, 206,23.6, 220,25.8, 231,26.3, 242,27.1, 257,29.6, 269,30.2, 280,30.9, 296,33.5, 307,34.2, 318,35.0, 334,37.8, 345,38.7, 355,39.7, 365,40.8]],
  [1993, [0,0.2, 13,1.2, 24,2.5, 31,2.9, 38,3.4, 48,5.2, 56,5.6, 64,6.1, 73,8.4, 82,8.8, 90,9.4, 99,11.9, 108,12.3, 117,12.9, 126,15.3, 136,15.7, 145,16.3, 158,17.4, 171,17.7, 184,18.0, 196,18.6, 207,19.1, 219,19.6, 230,20.2, 246,21.9, 257,22.4, 268,23.0, 283,25.4, 294,26.0, 305,26.7, 321,29.4, 332,30.3, 343,31.6, 356,34.8, 365,36.0]],
  [1994, [0,0.4, 8,1.4, 17,2.3, 22,2.9, 28,3.9, 41,4.9, 50,6.9, 59,7.3, 67,7.8, 76,10.1, 85,10.6, 94,11.1, 103,13.6, 112,14.1, 121,14.8, 130,17.5, 139,18.1, 148,18.8, 157,21.9, 166,22.5, 175,23.3, 185,26.2, 195,26.8, 205,27.5, 219,30.0, 230,30.6, 240,31.3, 255,34.0, 266,34.6, 277,35.4, 292,38.3, 303,39.0, 314,39.9, 330,42.6, 341,43.2, 352,43.8, 365,44.4]],
  [1995, [0,0.2, 7,0.6, 14,1.7, 28,2.0, 35,3.1, 47,3.5, 53,5.1, 68,5.5, 72,6.6, 86,7.1, 90,8.9, 105,9.3, 111,10.6, 124,11.2, 128,13.2, 144,13.7, 149,15.0, 162,15.6, 170,17.8, 184,18.3, 192,20.2, 205,20.7, 216,22.3, 231,22.8, 239,24.9, 253,25.4, 262,27.3, 278,27.9, 286,29.7, 301,30.2, 310,32.0, 326,32.6, 334,34.6, 348,35.4, 355,37.8, 365,39.2]],
  [1996, [0,0.6, 6,1.8, 14,2.9, 19,3.5, 24,4.6, 30,5.1, 35,5.8, 44,7.9, 51,8.5, 57,9.2, 65,11.6, 72,12.2, 79,13.0, 87,15.7, 95,16.4, 102,17.2, 110,20.1, 118,20.8, 125,21.7, 133,24.8, 141,25.6, 148,26.5, 156,29.8, 164,30.6, 171,31.6, 180,34.6, 189,35.3, 197,36.2, 209,38.9, 219,39.6, 228,40.5, 240,43.3, 249,44.1, 258,45.0, 270,48.4, 280,49.3, 289,50.3, 302,53.4, 312,54.3, 322,55.4, 338,57.6, 352,58.4, 365,59.2]],
  [1997, [0,0.1, 10,0.8, 16,1.1, 30,2.2, 36,2.5, 49,3.6, 56,4.0, 70,5.2, 76,5.6, 89,7.1, 96,7.5, 110,9.0, 117,9.4, 131,10.9, 138,11.4, 150,13.2, 158,13.7, 171,15.6, 179,16.1, 192,18.0, 200,18.5, 214,20.3, 223,20.8, 237,22.6, 246,23.1, 260,25.2, 269,25.7, 283,27.7, 292,28.3, 307,30.4, 316,31.0, 330,33.2, 339,33.9, 353,36.1, 365,37.4]],
  [1998, [0,0.4, 9,1.3, 19,2.2, 26,2.8, 33,3.6, 42,5.1, 51,5.5, 60,6.0, 69,8.1, 78,8.5, 87,9.0, 96,11.3, 106,11.8, 115,12.4, 124,14.8, 134,15.3, 143,16.0, 152,18.9, 162,19.4, 171,20.2, 181,23.1, 192,23.6, 202,24.3, 216,26.6, 227,27.2, 238,27.9, 253,30.4, 265,31.0, 276,31.8, 292,34.5, 303,35.2, 314,36.0, 330,38.8, 341,39.6, 352,40.5, 365,41.7]]
];
const gray2000s = [
  [2000, [0,0.3, 11,1.1, 23,2.3, 31,2.6, 39,3.0, 48,4.6, 57,4.9, 66,5.4, 76,7.3, 85,7.7, 94,8.2, 104,10.3, 114,10.7, 123,11.3, 132,13.6, 142,14.1, 151,14.7, 161,17.3, 171,17.9, 181,18.6, 191,21.2, 202,21.7, 212,22.4, 227,24.5, 238,25.0, 249,25.7, 264,28.1, 276,28.7, 287,29.4, 303,31.9, 314,32.5, 325,33.3, 341,36.0, 350,36.7, 359,37.6, 365,38.1]],
  [2001, [0,0.2, 10,1.1, 20,2.4, 28,2.8, 35,3.2, 44,4.9, 53,5.3, 62,5.8, 71,7.9, 80,8.3, 89,8.8, 98,11.1, 108,11.5, 117,12.1, 126,14.5, 136,15.1, 145,15.8, 154,18.7, 164,19.3, 173,20.1, 183,23.0, 194,23.6, 204,24.3, 218,26.7, 229,27.3, 240,28.0, 255,30.6, 263,31.1, 272,31.8, 284,32.3, 296,33.0, 307,33.7, 318,34.6, 332,36.8, 341,37.6, 350,38.7, 365,40.3]],
  [2002, [0,0.5, 9,1.5, 18,2.4, 25,3.0, 31,3.9, 41,5.1, 50,5.5, 58,6.1, 67,8.2, 76,8.6, 85,9.1, 94,11.5, 104,11.9, 113,12.5, 122,15.0, 132,15.5, 141,16.2, 150,19.1, 160,19.7, 169,20.4, 179,23.3, 190,23.8, 200,24.5, 214,26.8, 225,27.4, 236,28.1, 251,30.6, 263,31.2, 274,32.0, 290,34.8, 301,35.5, 312,36.3, 328,39.2, 339,40.1, 350,41.2, 365,42.6]],
  [2003, [0,0.4, 7,1.6, 15,2.7, 20,3.4, 26,4.3, 31,4.8, 36,5.5, 46,7.6, 53,8.1, 59,8.8, 67,11.2, 74,11.8, 81,12.6, 89,15.3, 97,16.0, 104,16.8, 112,19.8, 120,20.5, 127,21.4, 135,24.6, 143,25.4, 150,26.3, 158,29.9, 166,30.8, 173,31.8, 182,35.0, 191,35.8, 199,36.7, 211,39.5, 221,40.3, 230,41.2, 243,44.4, 253,45.3, 262,46.2, 275,49.3, 285,50.2, 295,51.2, 310,54.0, 322,55.0, 333,55.9, 350,56.8, 365,57.4]],
  [2004, [0,0.3, 10,1.5, 19,2.5, 25,3.1, 31,4.0, 40,5.3, 49,5.8, 57,6.4, 65,8.6, 74,9.1, 83,9.7, 91,12.2, 100,12.8, 109,13.4, 117,16.1, 126,16.7, 135,17.4, 143,20.5, 152,21.1, 161,21.9, 170,25.0, 179,25.6, 188,26.4, 198,29.3, 208,29.9, 218,30.6, 231,33.2, 242,33.8, 252,34.6, 267,37.5, 278,38.2, 288,39.0, 303,41.9, 314,42.7, 325,43.5, 342,46.4, 365,47.6]],
  [2005, [0,0.1, 9,0.5, 20,1.2, 33,1.6, 41,2.4, 55,2.9, 64,3.8, 77,4.3, 86,5.6, 97,6.1, 106,7.4, 118,8.0, 126,9.6, 138,10.4, 146,12.3, 155,13.6, 163,15.8, 171,17.1, 178,19.4, 186,20.6, 194,22.5, 203,23.4, 213,25.1, 224,25.9, 236,27.4, 247,28.1, 259,29.8, 272,30.6, 284,32.3, 297,33.1, 309,34.8, 322,35.7, 336,37.4, 349,38.3, 365,39.8]],
  [2006, [0,0.5, 9,1.7, 17,2.7, 23,3.3, 29,4.3, 38,5.6, 46,6.1, 54,6.8, 62,9.0, 71,9.5, 79,10.2, 87,12.8, 96,13.4, 104,14.1, 112,16.9, 121,17.6, 129,18.3, 137,21.5, 146,22.2, 154,23.0, 162,26.4, 171,27.1, 180,28.0, 189,31.2, 198,31.9, 207,32.7, 220,35.4, 230,36.1, 240,36.9, 254,39.9, 265,40.6, 275,41.5, 290,44.4, 301,45.2, 311,46.1, 328,48.9, 339,49.6, 350,50.4, 365,51.3]],
  [2007, [0,0.1, 13,0.9, 26,1.7, 34,2.3, 42,2.9, 52,4.2, 61,4.5, 70,5.0, 80,6.8, 89,7.2, 98,7.7, 108,9.7, 118,10.1, 127,10.7, 136,12.9, 146,13.4, 156,14.0, 166,16.5, 176,17.0, 186,17.7, 197,20.1, 208,20.6, 218,21.3, 233,23.3, 245,23.8, 256,24.5, 271,26.8, 283,27.4, 294,28.1, 310,30.5, 321,31.1, 332,31.9, 348,34.7, 357,35.8, 365,36.9]],
  [2008, [0,0.4, 8,1.6, 16,2.7, 22,3.4, 27,4.3, 32,4.9, 37,5.6, 45,6.2, 52,6.8, 60,9.0, 68,9.6, 76,10.3, 84,12.9, 92,13.6, 100,14.3, 108,17.2, 116,17.9, 124,18.7, 132,21.9, 140,22.7, 148,23.5, 156,27.0, 164,27.8, 172,28.7, 181,32.0, 190,32.8, 199,33.6, 211,36.4, 221,37.1, 230,38.0, 243,41.1, 253,41.9, 263,42.8, 277,45.9, 288,46.7, 298,47.6, 314,50.4, 326,51.5, 337,52.6, 365,54.1]],
  [2009, [0,0.3, 11,1.2, 21,2.0, 28,2.6, 35,3.4, 44,4.9, 53,5.3, 62,5.8, 71,7.9, 80,8.3, 89,8.8, 98,11.1, 108,11.5, 117,12.1, 126,14.5, 136,15.0, 145,15.7, 154,18.6, 164,19.1, 173,19.9, 183,22.7, 194,23.2, 204,23.9, 218,26.2, 229,26.8, 240,27.5, 255,30.0, 267,30.6, 278,31.3, 294,33.9, 305,34.6, 316,35.4, 332,38.2, 343,39.0, 353,40.0, 365,41.1]]
];
const gray2010s = [
  [2010, [0,0.3, 5,0.8, 17,1.1, 26,2.4, 36,2.7, 44,3.9, 58,4.3, 63,5.9, 75,6.3, 84,7.2, 93,8.6, 101,9.0, 112,10.1, 119,11.9, 131,12.4, 137,14.1, 148,14.6, 159,16.0, 166,17.9, 177,18.4, 189,19.6, 195,21.7, 208,22.3, 221,23.6, 228,25.4, 241,25.9, 256,27.2, 262,29.3, 277,29.9, 293,31.1, 299,32.9, 314,33.5, 330,35.3, 337,36.7, 352,37.4, 365,38.7]],
  [2011, [0,0.5, 8,1.7, 19,3.4, 31,5.2, 44,7.2, 58,9.4, 72,11.6, 87,14.0, 103,16.6, 119,19.3, 135,22.1, 150,25.0, 165,28.4, 180,31.6, 194,34.6, 208,37.8, 221,40.6, 234,43.6, 247,46.8, 260,49.9, 273,52.6, 285,54.3, 300,54.5, 305,55.3, 308,56.1, 313,56.7, 316,57.1, 321,57.7, 322,58.7, 327,58.9, 332,59.5, 336,60.1, 338,60.7, 343,61.8, 344,62.5, 351,63.2, 359,64.0, 363,64.6, 365,64.6]],
  [2012, [0,0.3, 11,0.6, 18,1.9, 31,2.2, 39,3.0, 52,3.4, 58,4.7, 71,5.1, 77,6.3, 91,6.7, 97,8.4, 110,8.8, 117,10.1, 130,10.6, 136,12.7, 149,13.2, 156,14.4, 168,14.9, 175,17.0, 189,17.5, 196,19.1, 210,19.6, 218,21.8, 233,22.3, 240,23.6, 255,24.1, 263,26.0, 278,26.5, 287,28.3, 302,28.9, 310,30.6, 325,31.2, 333,33.1, 348,33.8, 356,35.7, 365,37.2]],
  [2013, [0,0.4, 9,1.6, 17,2.6, 23,3.2, 29,4.2, 38,5.5, 47,6.0, 55,6.6, 63,8.8, 72,9.3, 80,10.0, 88,12.5, 97,13.1, 106,13.8, 114,16.6, 123,17.3, 131,18.0, 139,21.1, 148,21.8, 157,22.6, 165,25.9, 174,26.6, 183,27.5, 193,30.6, 203,31.2, 212,32.0, 225,34.7, 236,35.4, 246,36.2, 260,39.1, 271,39.8, 281,40.7, 296,43.6, 307,44.4, 318,45.3, 335,47.9, 358,49.2, 365,49.6]],
  [2014, [0,0.3, 9,1.6, 24,1.9, 29,2.9, 41,3.3, 47,4.2, 59,4.7, 66,6.3, 80,6.7, 85,8.1, 96,8.6, 102,10.4, 116,10.8, 123,12.6, 135,13.1, 141,14.7, 153,15.2, 159,17.2, 172,17.7, 179,20.0, 191,20.5, 198,22.6, 212,23.1, 221,24.7, 235,25.2, 244,27.0, 259,27.5, 267,29.4, 283,29.9, 290,31.9, 305,32.4, 313,34.5, 327,35.1, 336,37.3, 350,38.0, 357,39.8, 365,40.6]],
  [2015, [0,0.5, 9,1.5, 18,2.4, 25,3.0, 31,3.9, 41,5.1, 50,5.5, 58,6.1, 67,8.2, 76,8.6, 85,9.1, 94,11.5, 104,12.0, 113,12.6, 122,15.1, 132,15.6, 141,16.3, 150,19.2, 160,19.8, 169,20.6, 179,23.5, 190,24.0, 200,24.7, 214,27.1, 225,27.7, 236,28.4, 251,31.0, 263,31.6, 274,32.4, 290,35.2, 301,35.9, 312,36.8, 328,39.8, 339,40.9, 350,42.2, 365,43.8]],
  [2016, [0,0.2, 12,0.9, 25,1.7, 34,2.1, 42,2.6, 52,3.9, 62,4.2, 71,4.7, 81,6.4, 91,6.8, 100,7.3, 110,9.2, 120,9.6, 129,10.2, 139,12.3, 149,12.8, 159,13.4, 170,15.8, 181,16.3, 191,17.0, 202,19.3, 214,19.8, 225,20.5, 240,22.5, 252,23.0, 263,23.7, 278,25.9, 290,26.5, 301,27.2, 317,29.6, 328,30.2, 339,31.0, 354,33.9, 365,35.5]],
  [2017, [0,0.3, 10,1.4, 19,2.5, 25,3.1, 31,4.0, 40,5.2, 49,5.7, 57,6.3, 65,8.4, 74,8.9, 83,9.5, 91,12.0, 100,12.6, 109,13.2, 117,15.9, 126,16.5, 135,17.2, 143,20.2, 152,20.8, 161,21.6, 170,24.7, 179,25.3, 188,26.1, 198,29.0, 208,29.6, 218,30.3, 231,32.9, 242,33.5, 252,34.3, 267,37.2, 278,37.9, 288,38.7, 303,41.6, 314,42.4, 325,43.2, 342,45.2, 365,45.9]],
  [2018, [0,0.4, 7,1.5, 18,3.0, 30,4.6, 43,6.5, 57,8.6, 71,10.8, 86,13.1, 102,15.6, 118,18.2, 134,21.0, 149,23.8, 164,27.0, 179,30.1, 193,33.0, 207,35.9, 220,38.6, 233,41.4, 246,44.3, 259,47.0, 272,49.4, 284,51.0, 296,52.4, 305,54.2, 314,55.6, 322,57.4, 330,58.8, 337,60.2, 345,61.6, 352,62.7, 359,63.6, 365,64.0]],
  [2019, [0,0.3, 11,1.3, 20,2.2, 27,2.8, 34,3.6, 43,5.0, 52,5.4, 60,5.9, 69,8.0, 78,8.4, 87,8.9, 96,11.3, 106,11.7, 115,12.3, 124,14.8, 134,15.3, 143,16.0, 152,18.9, 162,19.5, 171,20.3, 181,23.2, 192,23.7, 202,24.4, 216,26.8, 227,27.4, 238,28.1, 253,30.7, 265,31.3, 276,32.1, 292,34.9, 303,35.6, 314,36.5, 330,39.4, 341,40.5, 352,41.7, 365,42.9]]
];
const gray2020s = [
  [2020, [0,0.4, 9,1.5, 18,2.6, 24,3.2, 30,4.1, 39,5.4, 48,5.9, 56,6.5, 64,8.7, 73,9.2, 82,9.8, 90,12.3, 99,12.9, 108,13.5, 116,16.3, 125,16.9, 134,17.6, 142,20.6, 151,21.2, 160,22.0, 169,25.1, 178,25.7, 187,26.5, 197,29.4, 207,30.0, 217,30.7, 230,33.3, 241,33.9, 251,34.7, 266,37.6, 277,38.3, 287,39.1, 302,42.0, 313,42.8, 324,43.6, 341,45.6, 365,46.3]],
  [2021, [0,0.4, 6,1.2, 15,2.0, 22,3.1, 30,3.6, 37,4.9, 46,5.6, 53,7.0, 61,7.6, 69,9.1, 78,9.8, 86,11.4, 95,12.0, 104,13.5, 113,14.2, 121,15.9, 131,16.5, 140,18.0, 152,18.6, 163,20.1, 176,20.7, 188,22.2, 201,22.8, 215,24.4, 229,25.0, 243,26.5, 258,27.1, 272,28.8, 287,29.5, 301,31.3, 316,32.0, 329,34.1, 344,35.2, 356,37.6, 365,39.0]]
];

// ---- drawing ----
const W = 1541, H = 1362;
const svg = d3.select("#chart");
const SANS = "'Liberation Sans', Arial, sans-serif";

svg.append("rect").attr("width", W).attr("height", H).attr("fill", "#ffffff");

const x = d3.scaleLinear().domain([0, 365]).range([247.5, 1400]);
const y = d3.scaleLinear().domain([0, 70]).range([1177, 26]);

const pairs = flat => d3.range(0, flat.length, 2).map(i => [flat[i], flat[i + 1]]);
const stepLine = d3.line()
  .x(d => x(d[0]))
  .y(d => y(d[1]))
  .curve(d3.curveStepAfter);

// every other year in grey
const grayYears = [].concat(gray1930s, gray1940s, gray1950s, gray1960s, gray1970s,
                            gray1980s, gray1990s, gray2000s, gray2010s, gray2020s);
const gGray = svg.append("g").attr("fill", "none").attr("stroke", "#8a8a8a")
  .attr("stroke-width", 1.7).attr("stroke-linejoin", "miter");
gGray.selectAll("path").data(grayYears).join("path")
  .attr("d", d => stepLine(pairs(d[1])));

// highlighted years
const highlights = [
  { key: "1930", values: year1930, color: "#e01010", width: 3 },
  { key: "1941", values: year1941, color: "#22e622", width: 7 },
  { key: "1999", values: year1999, color: "#5b5bf5", width: 7 }
];
const gHi = svg.append("g").attr("fill", "none");
gHi.selectAll("path").data(highlights).join("path")
  .attr("d", d => stepLine(pairs(d.values)))
  .attr("stroke", d => d.color)
  .attr("stroke-width", d => d.width)
  .attr("stroke-linejoin", "round");

// axes
const axisColor = "#1a1a1a";
const xAxis = d3.axisBottom(x)
  .tickValues(xTickDays)
  .tickFormat((d, i) => xTickLabels[i])
  .tickSizeInner(17).tickSizeOuter(0);
const gx = svg.append("g").attr("transform", "translate(0,1177)").call(xAxis);
gx.select(".domain").attr("stroke", axisColor).attr("stroke-width", 2);
gx.selectAll(".tick line").attr("stroke", axisColor).attr("stroke-width", 2);
gx.selectAll(".tick text").attr("y", 63).attr("dy", null)
  .attr("font-family", SANS).attr("font-size", 30).attr("fill", "#111");

const yAxis = d3.axisLeft(y)
  .tickValues(yTickValues)
  .tickFormat((d, i) => yTickLabels[i])
  .tickSizeInner(17).tickSizeOuter(0);
const gy = svg.append("g").attr("transform", "translate(248.5,0)").call(yAxis);
gy.select(".domain").attr("stroke", axisColor).attr("stroke-width", 2);
gy.selectAll(".tick line").attr("stroke", axisColor).attr("stroke-width", 2);
gy.selectAll(".tick text").attr("x", -38).attr("dy", "0.36em")
  .attr("font-family", SANS).attr("font-size", 31).attr("fill", "#111");

// remaining sides of the plot box
svg.append("path")
  .attr("d", `M241,${y.range()[1]}H${x.range()[1]}V${y.range()[0]}`)
  .attr("fill", "none").attr("stroke", axisColor).attr("stroke-width", 2);

// titles inside the plot
svg.append("text").attr("x", 308).attr("y", 97)
  .attr("font-family", SANS).attr("font-size", 37).attr("fill", "#111")
  .text("Cumulative Precipitation");
svg.append("text").attr("x", 308).attr("y", 136)
  .attr("font-family", SANS).attr("font-size", 32).attr("fill", "#111")
  .text("1930 to 2021");

// axis titles
svg.append("text").attr("x", 824).attr("y", 1277).attr("text-anchor", "middle")
  .attr("font-family", SANS).attr("font-size", 30).attr("fill", "#111")
  .text("Date within the Year");
svg.append("text")
  .attr("transform", "translate(160,600) rotate(-90)")
  .attr("text-anchor", "middle")
  .attr("font-family", SANS).attr("font-size", 31).attr("fill", "#111")
  .text("Cumulative Precipitation in inches");

// legend
const gLeg = svg.append("g");
gLeg.append("rect").attr("x", 332).attr("y", 317).attr("width", 206).attr("height", 139)
  .attr("fill", "#fff").attr("stroke", "#111").attr("stroke-width", 2);
const legRows = gLeg.selectAll("g.row").data(highlights).join("g").attr("class", "row")
  .attr("transform", (d, i) => `translate(0,${[345, 385, 423][i]})`);
legRows.append("line").attr("x1", 348).attr("x2", 445)
  .attr("stroke", d => d.color).attr("stroke-width", d => d.width);
legRows.append("text").attr("x", 457).attr("y", 10)
  .attr("font-family", SANS).attr("font-size", 26).attr("fill", "#111")
  .text((d, i) => legendYears[i]);

// note box
const NOTE = "Lato, 'Open Sans', sans-serif";
const gNote = svg.append("g");
gNote.append("rect").attr("x", 660).attr("y", 421).attr("width", 271).attr("height", 312)
  .attr("fill", "#fff").attr("stroke", "#000").attr("stroke-width", 4);
const noteText = (s, xx, yy, anchor) => gNote.append("text")
  .attr("x", xx).attr("y", yy).attr("text-anchor", anchor || "start")
  .attr("font-family", NOTE).attr("font-size", 52).attr("fill", "#000").text(s);
noteText("Very", 681, 493);
noteText("dry", 910, 493, "end");
noteText("summer", 681, 560);
noteText("and fall in", 681, 628).attr("textLength", 229).attr("lengthAdjust", "spacing");
noteText("1930", 681, 697);

// callout bubble pointing at the 1930 line
const L = 766, R = 1416, T = 919, B = 1066, r = 30;
const bubble = d3.path();
bubble.moveTo(875, T);
bubble.lineTo(L + r, T);
bubble.arcTo(L, T, L, T + r, r);
bubble.lineTo(L, B - r);
bubble.arcTo(L, B, L + r, B, r);
bubble.lineTo(R - r, B);
bubble.arcTo(R, B, R, B - r, r);
bubble.lineTo(R, T + r);
bubble.arcTo(R, T, R - r, T, r);
bubble.lineTo(1035, T);
bubble.lineTo(864, 738);
bubble.closePath();
svg.append("path").attr("d", bubble.toString())
  .attr("fill", "none").attr("stroke", "#4f86cc").attr("stroke-opacity", 0.72)
  .attr("stroke-width", 7).attr("stroke-linejoin", "round");

svg.append("rect").attr("x", 787).attr("y", 958).attr("width", 603).attr("height", 77)
  .attr("fill", "#66ccff");
svg.append("text").attr("x", 807).attr("y", 1015)
  .attr("font-family", "'DejaVu Serif', serif").attr("font-size", 43).attr("fill", "#000")
  .text("Only 20.8 inches in 1930");

// caption under the chart
svg.append("text").attr("x", 779).attr("y", 1335).attr("text-anchor", "middle")
  .attr("font-family", NOTE).attr("font-size", 49).attr("fill", "#000")
  .text("Cumulative Precipitation");

// outer frame
const frame = svg.append("g").attr("fill", "none");
frame.append("path").attr("d", "M17.5,1362V5H1538V1362")
  .attr("stroke", "#000").attr("stroke-width", 4);
frame.append("line").attr("x1", 17).attr("x2", 1538).attr("y1", 1359).attr("y2", 1359)
  .attr("stroke", "#c8c8c8").attr("stroke-width", 2);
svg.append("rect").attr("x", 0).attr("y", 147).attr("width", 4).attr("height", 10).attr("fill", "#000");
</script>
</body>
</html>
